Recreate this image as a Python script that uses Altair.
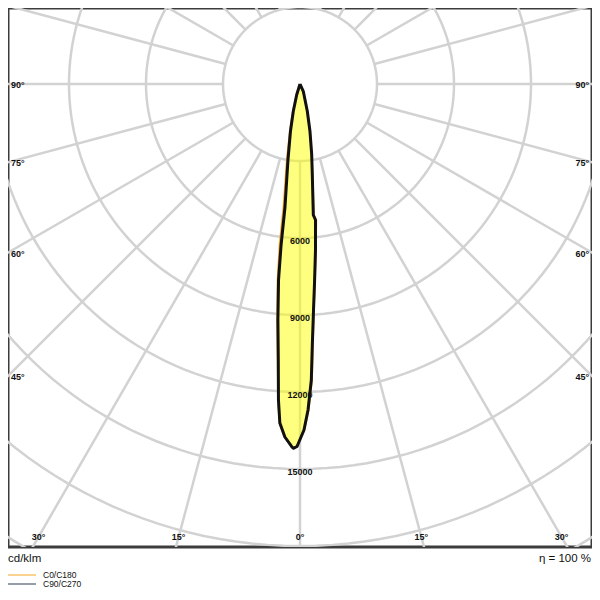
import altair as alt
import pandas as pd

# ---------------- data ----------------
ring_values = [3000, 6000, 9000, 12000, 15000, 18000, 21000, 24000]
ring_label_values = [6000, 9000, 12000, 15000]
spoke_angles = list(range(-180, 180, 15))
side_label_angles = [90, 75, 60, 45]
bottom_label_angles = [-30, -15, 0, 15, 30]

# C90/C270 (drawn black) : polar angle (deg, 0 = downward), intensity cd/klm
c90_angles = [-25, -17.1, -13.8, -11.4, -9.0, -6.95, -6.7, -6.25, -5.35, -4.5, -3.9,
              -3.4, -2.45, -1.3, -1.05, -0.47, 0.66, 1.41, 2.19, 2.7, 3.42, 4.17,
              5.33, 6.5, 5.8, 7.7, 9.4, 11.9, 15.0, 24.3, 30]
c90_values = [0, 436, 1095, 1880, 2998, 4828, 6317, 7682, 9235, 10787, 12340,
              13230, 13766, 14135, 14197, 14124, 13481, 12705, 11540, 10180, 8821, 7774,
              6496, 5333, 5130, 3578, 2792, 1884, 1101, 312, 0]

# C0/C180 (orange)
c0_angles = [-25, -17.5, -14.3, -12.0, -9.8, -7.6, -7.2, -6.5, -5.5, -4.6, -3.95,
             -3.45, -2.5, -1.3, -1.05, -0.47, 0.7, 1.5, 2.3, 2.8, 3.5, 4.25,
             5.45, 6.8, 6.0, 7.8, 9.4, 11.9, 15.0, 24.3, 30]
c0_values = [0, 436, 1095, 1880, 2998, 4828, 6317, 7682, 9235, 10787, 12340,
             13230, 13766, 14135, 14197, 14124, 13481, 12705, 11540, 10180, 8821, 7774,
             6496, 5333, 5130, 3578, 2792, 1884, 1101, 312, 0]

legend_labels = ["C0/C180", "C90/C270"]
legend_colors = ["#f5a623", "#2b3b4e"]
unit_text = "cd/klm"
eff_text = "η = 100 %"

# ---------------- geometry ----------------
K = 3000 / 77.0           # cd/klm per pixel
W, H = 584, 539
X_EDGE = 292 * K
X_DOM = [-X_EDGE, X_EDGE]
Y_DOM = [-76 * K, 463 * K]
FONT = "Liberation Sans"
GRID = "#d2d2d2"

xs = alt.Scale(domain=X_DOM, nice=False, zero=False)
ys = alt.Scale(domain=Y_DOM, nice=False, zero=False, reverse=True)

X = lambda f: alt.X(f, type="quantitative", scale=xs, axis=None)
Y = lambda f: alt.Y(f, type="quantitative", scale=ys, axis=None)

# rings
ring_rows = [{"r": r, "a": a} for r in ring_values for a in range(0, 361, 2)]
rings = alt.Chart(pd.DataFrame(ring_rows)).transform_calculate(
    x="datum.r*sin(datum.a*PI/180)", y="datum.r*cos(datum.a*PI/180)"
).mark_line(stroke=GRID, strokeWidth=2.5, clip=True).encode(
    x=X("x"), y=Y("y"), detail="r:N", order="a:Q")

# spokes
spokes = alt.Chart(pd.DataFrame({"a": spoke_angles})).transform_calculate(
    x="3000*sin(datum.a*PI/180)", y="3000*cos(datum.a*PI/180)",
    x2="60000*sin(datum.a*PI/180)", y2="60000*cos(datum.a*PI/180)"
).mark_rule(stroke=GRID, strokeWidth=2.5, clip=True).encode(
    x=X("x"), y=Y("y"), x2="x2:Q", y2="y2:Q")

def curve_df(angles, values):
    return pd.DataFrame({"i": list(range(len(angles))), "a": angles, "v": values})

polar = dict(x="datum.v*sin(datum.a*PI/180)", y="datum.v*cos(datum.a*PI/180)")

fill = alt.Chart(curve_df(c90_angles, c90_values)).transform_calculate(**polar).mark_line(
    fill="#ffff00", fillOpacity=0.5, strokeOpacity=0, strokeWidth=0
).encode(x=X("x"), y=Y("y"), order="i:Q")

orange = alt.Chart(curve_df(c0_angles, c0_values)).transform_calculate(**polar).mark_line(
    stroke=legend_colors[0], strokeWidth=2
).encode(x=X("x"), y=Y("y"), order="i:Q")

black = alt.Chart(curve_df(c90_angles, c90_values)).transform_calculate(**polar).mark_line(
    stroke="#111111", strokeWidth=3, strokeJoin="round"
).encode(x=X("x"), y=Y("y"), order="i:Q")

ring_labels = alt.Chart(pd.DataFrame({"v": ring_label_values})).transform_calculate(
    x="0", y="datum.v", t="toString(datum.v)"
).mark_text(font=FONT, fontSize=9, fontWeight="bold", dy=3, color="#111").encode(
    x=X("x"), y=Y("y"), text="t:N")

side_df = pd.DataFrame({"a": side_label_angles})
side_left = alt.Chart(side_df).transform_calculate(
    x=f"-{X_EDGE}", y=f"{X_EDGE}*cos(datum.a*PI/180)/sin(datum.a*PI/180)",
    t="datum.a + '°'"
).mark_text(font=FONT, fontSize=9, fontWeight="bold", align="left", dx=3, dy=1, color="#111").encode(
    x=X("x"), y=Y("y"), text="t:N")
side_right = alt.Chart(side_df).transform_calculate(
    x=f"{X_EDGE}", y=f"{X_EDGE}*cos(datum.a*PI/180)/sin(datum.a*PI/180)",
    t="datum.a + '°'"
).mark_text(font=FONT, fontSize=9, fontWeight="bold", align="right", dx=-3, dy=1, color="#111").encode(
    x=X("x"), y=Y("y"), text="t:N")

YB = Y_DOM[1] - 10 * K
bottom = alt.Chart(pd.DataFrame({"a": bottom_label_angles})).transform_calculate(
    x=f"{YB}*tan(datum.a*PI/180)", y=f"{YB}", t="abs(datum.a) + '°'"
).mark_text(font=FONT, fontSize=9, fontWeight="bold", color="#111").encode(
    x=X("x"), y=Y("y"), text="t:N")

one = pd.DataFrame({"k": [0]})
unit = alt.Chart(one).mark_text(font=FONT, fontSize=11.5, align="left", color="#111", text=unit_text).encode(
    x=alt.value(0), y=alt.value(551))
eff = alt.Chart(one).mark_text(font=FONT, fontSize=11.5, align="right", color="#111", text=eff_text).encode(
    x=alt.value(583), y=alt.value(551))

leg_layers = []
for j, (lab, col) in enumerate(zip(legend_labels, legend_colors)):
    yy = 567 + 9 * j
    leg_layers.append(alt.Chart(one).mark_rule(stroke=col, strokeWidth=1).encode(
        x=alt.value(0), x2=alt.value(28), y=alt.value(yy)))
    leg_layers.append(alt.Chart(one).mark_text(font=FONT, fontSize=8.5, align="left", color="#111", text=lab).encode(
        x=alt.value(35), y=alt.value(yy)))

chart = alt.layer(
    rings, spokes, fill, ring_labels, orange, black, side_left, side_right, bottom,
    unit, eff, *leg_layers
).properties(
    width=W, height=H,
    autosize=alt.AutoSizeParams(type="none"),
    padding={"left": 0, "top": 0, "right": 0, "bottom": 43},
    background="white",
).configure_view(stroke="#3c3c3c", strokeWidth=3)

chart.save("out.html", embed_options={"renderer": "svg", "actions": False})
